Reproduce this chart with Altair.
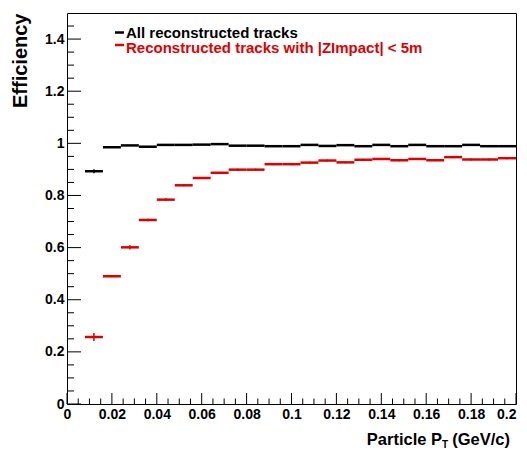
import altair as alt
import pandas as pd

# ---- data ----
bin_low = [0.008, 0.016, 0.024, 0.032, 0.040, 0.048, 0.056, 0.064, 0.072, 0.080, 0.088, 0.096,
           0.104, 0.112, 0.120, 0.128, 0.136, 0.144, 0.152, 0.160, 0.168, 0.176, 0.184, 0.192]
bin_high = [0.016, 0.024, 0.032, 0.040, 0.048, 0.056, 0.064, 0.072, 0.080, 0.088, 0.096, 0.104,
            0.112, 0.120, 0.128, 0.136, 0.144, 0.152, 0.160, 0.168, 0.176, 0.184, 0.192, 0.200]
all_eff = [0.893, 0.985, 0.992, 0.987, 0.994, 0.994, 0.995, 0.997, 0.991, 0.991, 0.989, 0.989,
           0.994, 0.990, 0.993, 0.989, 0.994, 0.989, 0.994, 0.989, 0.989, 0.994, 0.989, 0.989]
all_err = [0.008, 0.002, 0.002, 0.002, 0.002, 0.002, 0.002, 0.002, 0.002, 0.002, 0.002, 0.002,
           0.002, 0.002, 0.002, 0.002, 0.002, 0.002, 0.002, 0.002, 0.002, 0.002, 0.002, 0.002]
z_eff = [0.257, 0.490, 0.601, 0.706, 0.784, 0.839, 0.867, 0.887, 0.899, 0.899, 0.920, 0.920,
         0.926, 0.934, 0.927, 0.937, 0.940, 0.935, 0.940, 0.935, 0.947, 0.938, 0.938, 0.943]
z_err = [0.015, 0.004, 0.008, 0.005, 0.005, 0.004, 0.004, 0.004, 0.004, 0.004, 0.004, 0.004,
         0.004, 0.004, 0.004, 0.004, 0.004, 0.004, 0.004, 0.004, 0.004, 0.004, 0.004, 0.004]

series_names = ["All reconstructed tracks", "Reconstructed tracks with |ZImpact| < 5m"]
series_colors = ["#000000", "#e00000"]

x_labels = [0, 0.02, 0.04, 0.06, 0.08, 0.1, 0.12, 0.14, 0.16, 0.18, 0.2]
x_minor = [0.005, 0.01, 0.015, 0.025, 0.03, 0.035, 0.045, 0.05, 0.055, 0.065, 0.07, 0.075,
           0.085, 0.09, 0.095, 0.105, 0.11, 0.115, 0.125, 0.13, 0.135, 0.145, 0.15, 0.155,
           0.165, 0.17, 0.175, 0.185, 0.19, 0.195]
y_labels = [0, 0.2, 0.4, 0.6, 0.8, 1, 1.2, 1.4]
y_minor = [0.05, 0.1, 0.15, 0.25, 0.3, 0.35, 0.45, 0.5, 0.55, 0.65, 0.7, 0.75, 0.85, 0.9, 0.95,
           1.05, 1.1, 1.15, 1.25, 1.3, 1.35, 1.45]

# ---- tables ----
rows = []
for name, eff, err in [(series_names[0], all_eff, all_err), (series_names[1], z_eff, z_err)]:
    for lo, hi, v, e in zip(bin_low, bin_high, eff, err):
        rows.append({"series": name, "x": lo, "x2": hi, "xc": (lo + hi) / 2,
                     "y": v, "ylo": v - e, "yhi": v + e})
df = pd.DataFrame(rows)

FONT = "Liberation Sans"
W, H = 449, 391

xs = alt.Scale(domain=[0, 0.2], nice=False, zero=False)
ys = alt.Scale(domain=[0, 1.5], nice=False, zero=False)
col = alt.Color("series:N", scale=alt.Scale(domain=series_names, range=series_colors), legend=None)

x_axis = alt.Axis(values=x_labels, format="~g", title="", grid=False, ticks=False, domain=False,
                  labelFont=FONT, labelFontWeight="bold", labelFontSize=14, labelPadding=3,
                  labelColor="black", labelFlush=False, labelOverlap=False,
                  labelAlign=alt.ExprRef("datum.value > 0.199 ? 'right' : 'center'"))
y_axis = alt.Axis(values=y_labels, format="~g", title="Efficiency", grid=False, ticks=False,
                  domain=False, labelFont=FONT, labelFontWeight="bold", labelFontSize=14,
                  labelPadding=3, labelColor="black", labelFlush=False, labelOverlap=False,
                  titleFont=FONT, titleFontWeight="bold", titleFontSize=20,
                  titleColor="black", titleAngle=270, titleAlign="right",
                  titleBaseline="alphabetic", titleX=-41, titleY=0)

segments = alt.Chart(df).mark_rule(strokeWidth=2.5).encode(
    x=alt.X("x:Q", scale=xs, axis=x_axis), x2="x2:Q",
    y=alt.Y("y:Q", scale=ys, axis=y_axis), color=col)

errbars = alt.Chart(df).mark_rule(strokeWidth=1.5).encode(
    x=alt.X("xc:Q", scale=xs), y=alt.Y("ylo:Q", scale=ys), y2="yhi:Q", color=col)

def yticks(vals, length):
    return alt.Chart(pd.DataFrame({"y": vals})).mark_rule(color="black", strokeWidth=1).encode(
        y=alt.Y("y:Q", scale=ys), x=alt.value(0), x2=alt.value(length))

def xticks(vals, length):
    return alt.Chart(pd.DataFrame({"x": vals})).mark_rule(color="black", strokeWidth=1).encode(
        x=alt.X("x:Q", scale=xs), y=alt.value(H), y2=alt.value(H - length))

leg_df = pd.DataFrame({"series": series_names})

leg_dash1 = alt.Chart(leg_df.iloc[[0]]).mark_rule(strokeWidth=2.5).encode(
    x=alt.value(48), x2=alt.value(57), y=alt.value(19.5), color=col)
leg_dash2 = alt.Chart(leg_df.iloc[[1]]).mark_rule(strokeWidth=2.5).encode(
    x=alt.value(48), x2=alt.value(57), y=alt.value(32), color=col)
leg_text1 = alt.Chart(leg_df.iloc[[0]]).mark_text(
    font=FONT, fontWeight="bold", fontSize=15, align="left", baseline="alphabetic").encode(
    x=alt.value(59), y=alt.value(25), text="series:N", color=col)
leg_text2 = alt.Chart(leg_df.iloc[[1]]).mark_text(
    font=FONT, fontWeight="bold", fontSize=15, align="left", baseline="alphabetic").encode(
    x=alt.value(59), y=alt.value(40), text="series:N", color=col)

title_parts = pd.DataFrame({"t": ["Particle P", "T", "(GeV/c)"]})
t_base = 432
t1 = alt.Chart(title_parts.iloc[[2]]).mark_text(
    font=FONT, fontWeight="bold", fontSize=16.5, align="right", baseline="alphabetic",
    color="black").encode(x=alt.value(443), y=alt.value(t_base), text="t:N")
t2 = alt.Chart(title_parts.iloc[[1]]).mark_text(
    font=FONT, fontWeight="bold", fontSize=10, align="right", baseline="alphabetic",
    color="black").encode(x=alt.value(381), y=alt.value(t_base + 3), text="t:N")
t3 = alt.Chart(title_parts.iloc[[0]]).mark_text(
    font=FONT, fontWeight="bold", fontSize=16.5, align="right", baseline="alphabetic",
    color="black").encode(x=alt.value(375), y=alt.value(t_base), text="t:N")

chart = alt.layer(
    segments, errbars,
    yticks(y_labels, 14), yticks(y_minor, 7),
    xticks(x_labels, 11), xticks(x_minor, 5.5),
    leg_dash1, leg_dash2, leg_text1, leg_text2, t1, t2, t3,
).properties(
    width=W, height=H,
    autosize=alt.AutoSizeParams(type="none"),
    padding={"left": 59, "top": 5, "right": 3, "bottom": 46},
    background="white",
).configure_view(stroke="black", strokeWidth=1)

chart.save("out.html", embed_options={"renderer": "svg", "actions": False})
